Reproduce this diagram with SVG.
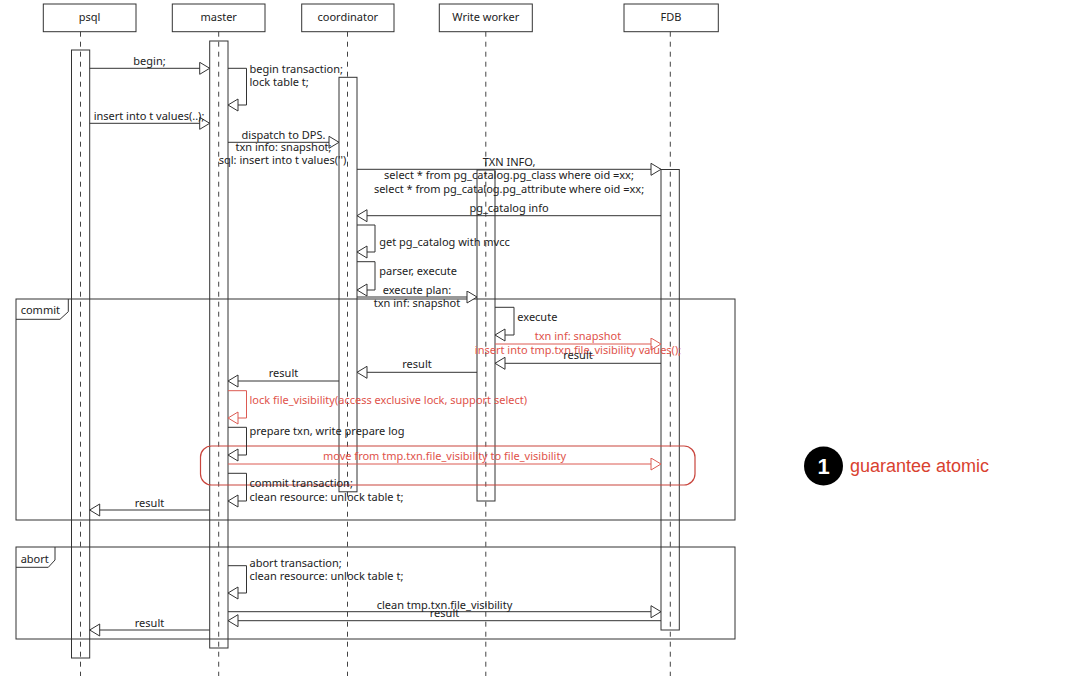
<svg xmlns="http://www.w3.org/2000/svg" width="1080" height="676" viewBox="0 0 1080 676">
<defs>
<marker id="ah" markerUnits="userSpaceOnUse" markerWidth="13" markerHeight="14" refX="11" refY="6.5" orient="auto"><path d="M1,0.5 L11,6.5 L1,12.5 z" fill="#fff" stroke="#333" stroke-width="1"/></marker>
<marker id="ahr" markerUnits="userSpaceOnUse" markerWidth="13" markerHeight="14" refX="11" refY="6.5" orient="auto"><path d="M1,0.5 L11,6.5 L1,12.5 z" fill="#fff" stroke="#dc5a52" stroke-width="1"/></marker>
</defs>
<style>
.t{font-family:"Noto Sans","Open Sans",sans-serif;font-size:11px;fill:#222}
.m{text-anchor:middle}
.r{fill:#e0524a}
.ln{stroke:#333;stroke-width:1;fill:none;marker-end:url(#ah)}
.rl{stroke:#dc5a52;stroke-width:1;fill:none;marker-end:url(#ahr)}
.life{stroke:#444;stroke-width:1;stroke-dasharray:5 5;fill:none}
.box{fill:#fff;stroke:#333;stroke-width:1}
.bar{fill:none;stroke:#333;stroke-width:1}
.frame{fill:none;stroke:#333;stroke-width:1}
</style>
<rect x="0" y="0" width="1080" height="676" fill="#fff"/>

<g id="frame-commit">
<rect class="frame" x="16" y="299" width="719" height="221"/>
<path class="frame" d="M16,319.3 H60 L68.3,311.7 V299"/>
<text class="t" x="20.7" y="314">commit</text>
</g>
<g id="frame-abort">
<rect class="frame" x="16" y="547" width="719" height="92"/>
<path class="frame" d="M16,567.3 H48.3 L55,560 V547"/>
<text class="t" x="20.7" y="563">abort</text>
</g>

<g id="psql">
<rect class="box" x="43.3" y="4" width="92.7" height="27.7"/>
<text class="t m" x="89.5" y="20.5">psql</text>
<line class="life" x1="80.5" y1="31.7" x2="80.5" y2="676"/>
<rect class="bar" x="71.5" y="50" width="18.2" height="608"/>
</g>
<g id="master">
<rect class="box" x="172.3" y="4" width="92.7" height="27.7"/>
<text class="t m" x="218.7" y="20.5">master</text>
<line class="life" x1="218.7" y1="31.7" x2="218.7" y2="676"/>
<rect class="bar" x="209.7" y="41" width="18.3" height="607"/>
</g>
<g id="coordinator">
<rect class="box" x="301.7" y="4" width="92.3" height="27.7"/>
<text class="t m" x="347.8" y="20.5">coordinator</text>
<line class="life" x1="347.5" y1="31.7" x2="347.5" y2="676"/>
<rect class="bar" x="339" y="77.3" width="18" height="414.5"/>
</g>
<g id="write-worker">
<rect class="box" x="439.3" y="4" width="93" height="27.7"/>
<text class="t m" x="485.8" y="20.5">Write worker</text>
<line class="life" x1="485.8" y1="31.7" x2="485.8" y2="676"/>
<rect class="bar" x="477" y="170" width="18" height="331"/>
</g>
<g id="fdb">
<rect class="box" x="624" y="4" width="94.3" height="27.7"/>
<text class="t m" x="671" y="20.5">FDB</text>
<line class="life" x1="670.3" y1="31.7" x2="670.3" y2="676"/>
<rect class="bar" x="661" y="169.5" width="18.3" height="460.5"/>
</g>

<g id="atomic-box">
<rect x="200.5" y="446" width="494.5" height="39" rx="11" ry="11" fill="none" stroke="#c9453d" stroke-width="1.2"/>
</g>

<g id="connectors">
<path class="ln" d="M89.7,68.3 H209.7"/>
<path class="ln" d="M228,68.3 H246.5 V105 H228"/>
<path class="ln" d="M89.7,123.3 H209.7"/>
<path class="ln" d="M228,142.3 H339"/>
<path class="ln" d="M357,169.3 H661"/>
<path class="ln" d="M661,215.7 H357"/>
<path class="ln" d="M357,225 H375 V252 H357"/>
<path class="ln" d="M357,261.7 H375 V290 H357"/>
<path class="ln" d="M357,297 H477"/>
<path class="ln" d="M495,307.3 H514 V335 H495"/>
<path class="rl" d="M495,344 H661"/>
<path class="ln" d="M661,363.3 H495"/>
<path class="ln" d="M477,372.3 H357"/>
<path class="ln" d="M339,381 H228"/>
<path class="rl" d="M228,390.7 H246.5 V418 H228"/>
<path class="ln" d="M228,427.3 H246.5 V455 H228"/>
<path class="rl" d="M228,464 H661"/>
<path class="ln" d="M228,473.3 H246.5 V501 H228"/>
<path class="ln" d="M209.7,510 H89.7"/>
<path class="ln" d="M228,565.7 H246.5 V593 H228"/>
<path class="ln" d="M228,611.7 H661"/>
<path class="ln" d="M661,620.7 H228"/>
<path class="ln" d="M209.7,630 H89.7"/>
</g>

<g id="labels">
<text class="t m" x="149.5" y="64.5">begin;</text>
<text class="t" x="249.5" y="73.3">begin transaction;</text>
<text class="t" x="249.5" y="86.3">lock table t;</text>
<text class="t m" x="149" y="119.5">insert into t values(..);</text>
<text class="t m" x="283.5" y="138.7">dispatch to DPS.</text>
<text class="t m" x="283.5" y="151.3">txn info: snapshot;</text>
<text class="t m" x="282.5" y="164.3">sql: insert into t values('')</text>
<text class="t m" x="509" y="165.5">TXN INFO,</text>
<text class="t m" x="509" y="179">select * from pg_catalog.pg_class where oid =xx;</text>
<text class="t m" x="509" y="192.5">select * from pg_catalog.pg_attribute where oid =xx;</text>
<text class="t m" x="509" y="212">pg_catalog info</text>
<text class="t" x="379.3" y="245.5">get pg_catalog with mvcc</text>
<text class="t" x="379.3" y="274.5">parser, execute</text>
<text class="t m" x="417" y="294">execute plan:</text>
<text class="t m" x="417" y="307">txn inf: snapshot</text>
<text class="t" x="517.3" y="320.5">execute</text>
<text class="t m r" x="578" y="339.5">txn inf: snapshot</text>
<text class="t m r" x="578" y="353.5">insert into tmp.txn.file_visibility values();</text>
<text class="t m" x="578" y="359">result</text>
<text class="t m" x="417" y="368">result</text>
<text class="t m" x="283.5" y="377">result</text>
<text class="t r" x="249.5" y="404">lock file_visibility(access exclusive lock, support select)</text>
<text class="t" x="249.5" y="434.5">prepare txn, write prepare log</text>
<text class="t m r" x="444.5" y="460">move from tmp.txn.file_visibility to file_visibility</text>
<text class="t" x="249.5" y="487">commit transaction;</text>
<text class="t" x="249.5" y="500.5">clean resource: unlock table t;</text>
<text class="t m" x="149.5" y="506.5">result</text>
<text class="t" x="249.5" y="566.5">abort transaction;</text>
<text class="t" x="249.5" y="580">clean resource: unlock table t;</text>
<text class="t m" x="444.5" y="608.5">clean tmp.txn.file_visibility</text>
<text class="t m" x="444.5" y="617">result</text>
<text class="t m" x="149.5" y="626.5">result</text>
</g>

<g id="annotation">
<circle cx="823.5" cy="466" r="19.5" fill="#000"/>
<text x="823.5" y="474" text-anchor="middle" font-family="Liberation Sans, Arial, sans-serif" font-size="22" font-weight="bold" fill="#fff">1</text>
<text x="850" y="472" font-family="Liberation Sans, Arial, sans-serif" font-size="18" fill="#d9412f">guarantee atomic</text>
</g>
</svg>
